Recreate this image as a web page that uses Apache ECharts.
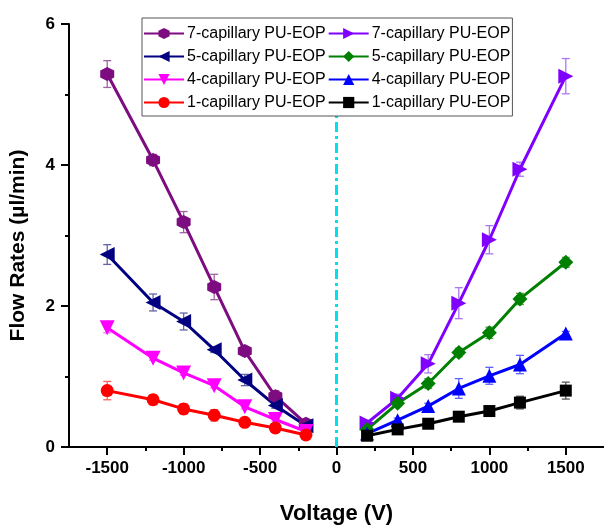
<!DOCTYPE html>
<html>
<head>
<meta charset="utf-8">
<script src="https://cdn.jsdelivr.net/npm/echarts@6/dist/echarts.min.js"></script>
<style>
  html, body { margin: 0; padding: 0; background: #ffffff; }
  #chart { width: 604px; height: 530px; }
</style>
</head>
<body>
<div id="chart"></div>
<script>
// voltages (V)
const voltNeg = [-1500, -1200, -1000, -800, -600, -400, -200]
const voltPos = [200, 400, 600, 800, 1000, 1200, 1500]

// flow rates (µl/min) and error bars, negative voltage side
const flow7Neg = [5.29, 4.07, 3.19, 2.27, 1.36, 0.72, 0.33]
const err7Neg = [0.19, 0.08, 0.15, 0.18, 0.04, 0.08, 0.05]
const flow5Neg = [2.73, 2.05, 1.78, 1.38, 0.95, 0.59, 0.30]
const err5Neg = [0.14, 0.12, 0.12, 0.04, 0.08, 0.04, 0.03]
const flow4Neg = [1.69, 1.26, 1.05, 0.87, 0.57, 0.39, 0.22]
const err4Neg = [0.07, 0.03, 0.03, 0.03, 0.03, 0.02, 0.02]
const flow1Neg = [0.80, 0.67, 0.54, 0.45, 0.35, 0.27, 0.17]
const err1Neg = [0.13, 0.07, 0.07, 0.08, 0.03, 0.03, 0.02]

// positive voltage side
const flow7Pos = [0.34, 0.69, 1.18, 2.04, 2.94, 3.94, 5.26]
const err7Pos = [0.04, 0.06, 0.13, 0.22, 0.20, 0.10, 0.25]
const flow5Pos = [0.25, 0.62, 0.90, 1.34, 1.62, 2.10, 2.62]
const err5Pos = [0.03, 0.04, 0.07, 0.06, 0.08, 0.08, 0.07]
const flow4Pos = [0.19, 0.38, 0.58, 0.83, 1.01, 1.17, 1.61]
const err4Pos = [0.02, 0.03, 0.04, 0.14, 0.12, 0.13, 0.03]
const flow1Pos = [0.16, 0.25, 0.33, 0.43, 0.51, 0.63, 0.80]
const err1Pos = [0.02, 0.03, 0.03, 0.04, 0.05, 0.09, 0.12]

// axis ticks
const xMajorTicks = [-1500, -1000, -500, 0, 500, 1000, 1500]
const xMinorTicks = [-1250, -750, -250, 250, 750, 1250]

const FONT = 'Arial, "Liberation Sans", sans-serif'

const hexagon = 'path://M5,0L9.33,2.5L9.33,7.5L5,10L0.67,7.5L0.67,2.5Z'
const triLeft = 'path://M0,5L10,0L10,10Z'
const triRight = 'path://M10,5L0,0L0,10Z'
const triDown = 'path://M0,0L10,0L5,10Z'

// id, label, x, y, err, colour, error bar colour, symbol, size
const lines = [
  ['L7', '7-capillary PU-EOP', voltNeg, flow7Neg, err7Neg, '#7d0c80', '#a064a3', hexagon, 14],
  ['R7', '7-capillary PU-EOP', voltPos, flow7Pos, err7Pos, '#8000ff', '#a979f2', triRight, 15],
  ['L5', '5-capillary PU-EOP', voltNeg, flow5Neg, err5Neg, '#000080', '#6464a8', triLeft, 15],
  ['R5', '5-capillary PU-EOP', voltPos, flow5Pos, err5Pos, '#008000', '#5aa05a', 'diamond', 15],
  ['L4', '4-capillary PU-EOP', voltNeg, flow4Neg, err4Neg, '#ff00ff', '#ff70ff', triDown, 15],
  ['R4', '4-capillary PU-EOP', voltPos, flow4Pos, err4Pos, '#0000ff', '#6060ff', 'triangle', 14],
  ['L1', '1-capillary PU-EOP', voltNeg, flow1Neg, err1Neg, '#ff0000', '#ff6060', 'circle', 13],
  ['R1', '1-capillary PU-EOP', voltPos, flow1Pos, err1Pos, '#000000', '#555555', 'rect', 12]
]
const labelOf = {}
lines.forEach(l => { labelOf[l[0]] = l[1] })

function errorBars (color) {
  return function (params, api) {
    const x = api.value(0)
    const y = api.value(1)
    const e = api.value(2)
    const top = api.coord([x, y + e])
    const bot = api.coord([x, y - e])
    const w = 4
    const style = { stroke: color, lineWidth: 1.3 }
    return {
      type: 'group',
      children: [
        { type: 'line', shape: { x1: top[0], y1: top[1], x2: bot[0], y2: bot[1] }, style: style },
        { type: 'line', shape: { x1: top[0] - w, y1: top[1], x2: top[0] + w, y2: top[1] }, style: style },
        { type: 'line', shape: { x1: bot[0] - w, y1: bot[1], x2: bot[0] + w, y2: bot[1] }, style: style }
      ]
    }
  }
}

const series = []
lines.forEach(function (l) {
  series.push({
    name: l[0] + '_err',
    type: 'custom',
    z: 1,
    renderItem: errorBars(l[6]),
    data: l[2].map((x, i) => [x, l[3][i], l[4][i]]),
    silent: true
  })
  series.push({
    name: l[0],
    type: 'line',
    z: 3,
    data: l[2].map((x, i) => [x, l[3][i]]),
    symbol: l[7],
    symbolSize: l[8],
    showAllSymbol: true,
    lineStyle: { color: l[5], width: 3 },
    itemStyle: { color: l[5] }
  })
})

// dash-dot line at 0 V
series.push({
  name: 'zero',
  type: 'line',
  data: [],
  z: 0,
  markLine: {
    silent: true,
    symbol: ['none', 'none'],
    label: { show: false },
    lineStyle: { color: '#00e1ee', width: 3, type: [10, 4, 3, 4] },
    data: [{ xAxis: 0 }]
  }
})

const chart = echarts.init(document.getElementById('chart'))
chart.setOption({
  backgroundColor: '#ffffff',
  animation: false,
  grid: { left: 62, right: 0, top: 24, bottom: 71, containLabel: false },
  legend: {
    data: lines.map(l => l[0]),
    formatter: name => labelOf[name],
    left: 142,
    top: 18,
    width: 380,
    orient: 'horizontal',
    itemWidth: 40,
    itemHeight: 14,
    itemGap: 2,
    padding: [5, 2, 3, 1],
    backgroundColor: '#ffffff',
    borderColor: '#555555',
    borderWidth: 1,
    borderRadius: 0,
    selectedMode: false,
    z: 10,
    textStyle: { fontFamily: FONT, fontSize: 16, color: '#000', lineHeight: 21, padding: [0, 0, 0, -2] }
  },
  xAxis: [{
    type: 'value',
    min: -1750,
    max: 1750,
    name: 'Voltage (V)',
    nameLocation: 'middle',
    nameGap: 56,
    nameTextStyle: { fontFamily: FONT, fontSize: 22, fontWeight: 'bold', color: '#000' },
    axisLine: { onZero: false, lineStyle: { color: '#000', width: 2 } },
    axisTick: { show: true, length: 8, lineStyle: { color: '#000', width: 2 }, customValues: xMajorTicks },
    axisLabel: {
      customValues: xMajorTicks,
      formatter: v => String(v),
      margin: 13,
      fontFamily: FONT,
      fontSize: 17,
      fontWeight: 'bold',
      color: '#000'
    },
    splitLine: { show: false }
  }, {
    type: 'value',
    min: -1750,
    max: 1750,
    position: 'bottom',
    axisLine: { show: false },
    axisTick: { show: true, length: 4, lineStyle: { color: '#000', width: 2 }, customValues: xMinorTicks },
    axisLabel: { show: false },
    splitLine: { show: false }
  }],
  yAxis: {
    type: 'value',
    min: 0,
    max: 6,
    interval: 2,
    name: 'Flow Rates (µl/min)',
    nameLocation: 'middle',
    nameRotate: 90,
    nameGap: 40,
    nameTextStyle: { fontFamily: FONT, fontSize: 21, fontWeight: 'bold', color: '#000', padding: [0, 20, 0, 0] },
    axisLine: { show: true, onZero: false, lineStyle: { color: '#000', width: 2 } },
    axisTick: { show: true, length: 8, lineStyle: { color: '#000', width: 2 } },
    minorTick: { show: true, splitNumber: 2, length: 4, lineStyle: { color: '#000', width: 2 } },
    axisLabel: { margin: 14, fontFamily: FONT, fontSize: 17, fontWeight: 'bold', color: '#000' },
    splitLine: { show: false },
    minorSplitLine: { show: false }
  },
  series: series
})
</script>
</body>
</html>
